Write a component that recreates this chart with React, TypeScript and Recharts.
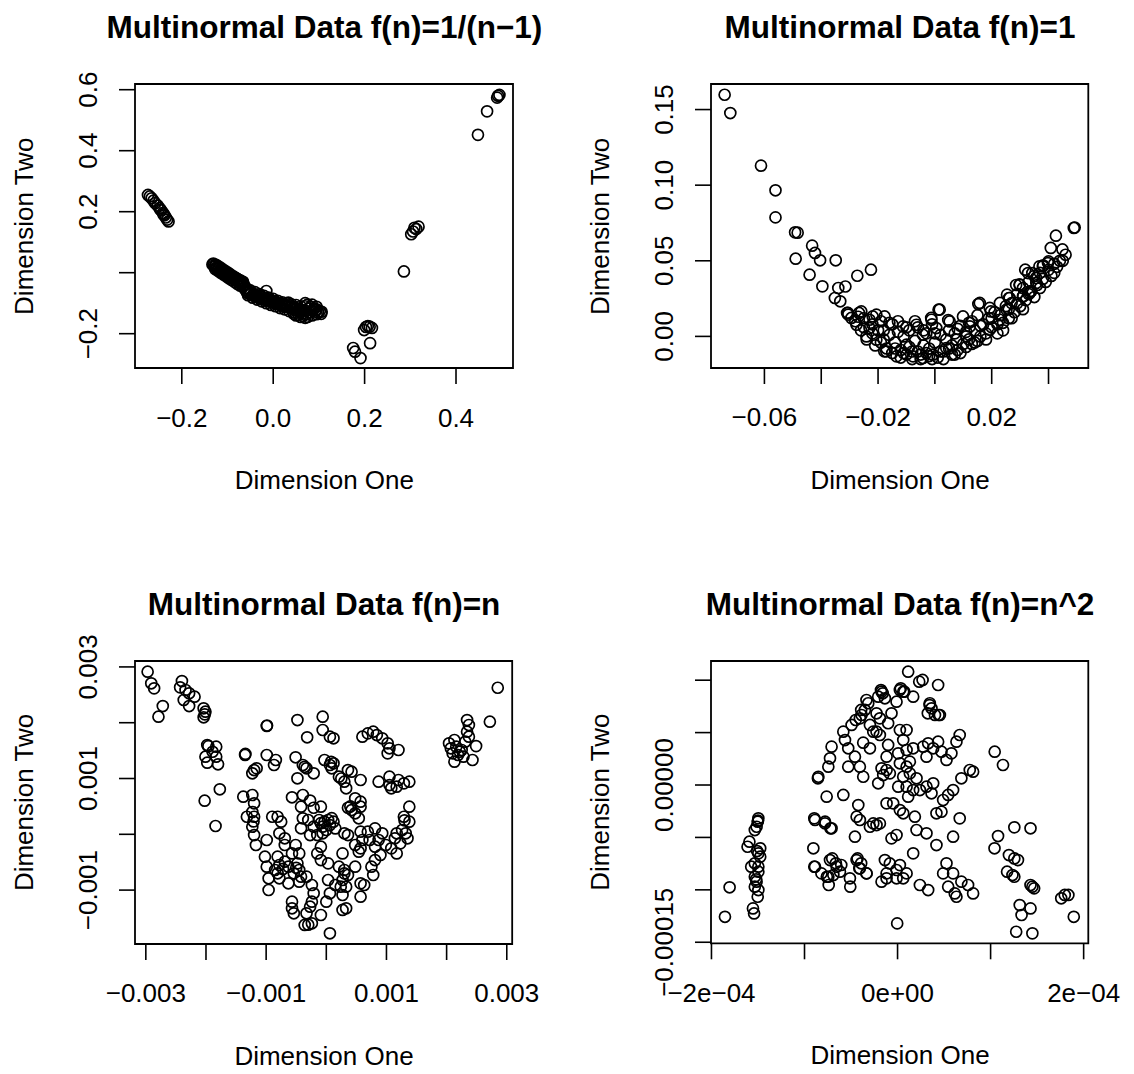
import { ScatterChart, Scatter, XAxis, YAxis, ReferenceArea } from "recharts"

const FONT = '"Liberation Sans", Arial, Helvetica, sans-serif'

type Pt = [number, number]
type Box = { left: number; top: number; right: number; bottom: number }

// ---- panel 1: f(n)=1/(n-1)
const p1Title = "Multinormal Data f(n)=1/(n−1)"
const p1XTicks = [-0.2, 0, 0.2, 0.4]
const p1XLabels = ["−0.2", "0.0", "0.2", "0.4"]
const p1YTicks = [-0.2, 0, 0.2, 0.4, 0.6]
const p1YLabels = ["−0.2", "", "0.2", "0.4", "0.6"]
const p1Points: Pt[] = [
  [0.492, 0.58], [0.49, 0.574], [0.495, 0.583], [0.468, 0.529], [0.448, 0.452],
  [0.309, 0.147], [0.306, 0.135], [0.318, 0.151], [0.302, 0.126], [0.313, 0.143],
  [0.286, 0.004],
  [0.203, -0.178], [0.211, -0.177], [0.199, -0.188], [0.216, -0.181], [0.207, -0.175],
  [0.212, -0.231], [0.175, -0.247], [0.179, -0.259], [0.191, -0.28],
  [-0.274, 0.255], [-0.27, 0.25], [-0.266, 0.244], [-0.262, 0.236], [-0.258, 0.228],
  [-0.253, 0.22], [-0.249, 0.212], [-0.247, 0.207], [-0.245, 0.204], [-0.241, 0.196],
  [-0.24, 0.191], [-0.238, 0.188], [-0.235, 0.181], [-0.232, 0.174], [-0.229, 0.168],
  [-0.133, 0.027], [-0.13, 0.024], [-0.128, 0.02], [-0.126, 0.023], [-0.124, 0.016],
  [-0.122, 0.019], [-0.12, 0.012], [-0.118, 0.015], [-0.116, 0.008], [-0.114, 0.011],
  [-0.112, 0.004], [-0.11, 0.007], [-0.108, 0.0], [-0.106, 0.003], [-0.104, -0.004],
  [-0.102, -0.001], [-0.1, -0.008], [-0.098, -0.005], [-0.096, -0.012], [-0.094, -0.008],
  [-0.092, -0.016], [-0.09, -0.012], [-0.088, -0.019], [-0.086, -0.015], [-0.084, -0.022],
  [-0.082, -0.018], [-0.08, -0.026], [-0.078, -0.021], [-0.076, -0.03], [-0.074, -0.025],
  [-0.072, -0.034], [-0.07, -0.028], [-0.068, -0.038], [-0.066, -0.033],
  [-0.131, 0.03], [-0.125, 0.026], [-0.119, 0.02], [-0.113, 0.014], [-0.107, 0.008],
  [-0.101, 0.002], [-0.095, -0.004], [-0.089, -0.01], [-0.083, -0.016], [-0.077, -0.022],
  [-0.071, -0.026], [-0.066, -0.03],
  [-0.127, 0.012], [-0.121, 0.006], [-0.115, 0.0], [-0.109, -0.006], [-0.103, -0.012],
  [-0.097, -0.018], [-0.091, -0.024], [-0.085, -0.03], [-0.079, -0.036], [-0.073, -0.042],
  [-0.067, -0.046], [-0.064, -0.04],
  [-0.06, -0.058], [-0.057, -0.066], [-0.054, -0.062], [-0.051, -0.07], [-0.048, -0.066],
  [-0.045, -0.074], [-0.042, -0.07], [-0.039, -0.078], [-0.036, -0.074], [-0.033, -0.081],
  [-0.03, -0.077], [-0.027, -0.085], [-0.024, -0.08], [-0.021, -0.088], [-0.018, -0.084],
  [-0.015, -0.06], [-0.015, -0.091], [-0.012, -0.087], [-0.009, -0.094], [-0.006, -0.09],
  [-0.003, -0.097], [0.0, -0.093], [0.003, -0.1], [0.006, -0.096], [0.009, -0.103],
  [0.012, -0.099], [0.015, -0.106], [0.018, -0.102], [0.021, -0.109], [0.024, -0.105],
  [0.027, -0.112], [0.03, -0.108], [0.033, -0.098], [0.036, -0.114], [0.039, -0.11],
  [0.042, -0.118], [0.045, -0.113], [0.048, -0.122], [0.051, -0.116], [0.054, -0.126],
  [0.057, -0.12], [0.06, -0.13], [0.063, -0.122], [0.066, -0.132], [0.069, -0.11],
  [0.071, -0.125], [0.073, -0.136], [0.075, -0.105], [0.078, -0.118], [0.08, -0.13],
  [0.083, -0.112], [0.086, -0.124], [0.089, -0.118], [0.092, -0.128], [0.095, -0.12],
  [0.098, -0.13], [0.102, -0.126], [0.106, -0.128],
  [0.05, -0.14], [0.06, -0.145], [0.07, -0.148], [0.045, -0.135],
  [-0.058, -0.052], [-0.05, -0.058], [-0.04, -0.064], [-0.03, -0.07], [-0.02, -0.076],
  [-0.01, -0.082], [0.0, -0.086], [0.01, -0.092], [0.02, -0.097], [0.03, -0.101],
  [0.04, -0.104], [0.05, -0.106], [0.06, -0.11], [0.07, -0.1], [0.085, -0.105], [0.095, -0.112],
  [-0.055, -0.074], [-0.045, -0.082], [-0.035, -0.088], [-0.025, -0.094], [-0.015, -0.1],
  [-0.005, -0.106], [0.005, -0.11], [0.015, -0.116], [0.025, -0.12], [0.035, -0.126],
  [0.045, -0.13], [0.055, -0.138], [0.065, -0.142], [0.075, -0.145], [0.085, -0.14],
  [0.095, -0.136], [0.105, -0.135],
]

// ---- panel 2: f(n)=1
const p2Title = "Multinormal Data f(n)=1"
const p2XTicks = [-0.06, -0.04, -0.02, 0, 0.02, 0.04]
const p2XLabels = ["−0.06", "", "−0.02", "", "0.02", ""]
const p2YTicks = [0, 0.05, 0.1, 0.15]
const p2YLabels = ["0.00", "0.05", "0.10", "0.15"]
const p2Points: Pt[] = [
  [-0.074, 0.1598], [-0.072, 0.1477], [-0.0612, 0.1129], [-0.0561, 0.0966], [-0.0561, 0.0787],
  [-0.0492, 0.0688], [-0.0483, 0.0686], [-0.049, 0.0514], [-0.0432, 0.06], [-0.0422, 0.0552],
  [-0.0404, 0.0503], [-0.0349, 0.0503], [-0.0441, 0.0408], [-0.0396, 0.0331], [-0.034, 0.032],
  [-0.0315, 0.033], [-0.0352, 0.0254], [-0.0333, 0.0232], [-0.0273, 0.0401], [-0.0225, 0.0441],
  [0.0013, 0.0177], [-0.0013, 0.0122], [0.0153, 0.0214], [0.0047, 0.0108], [0.0254, 0.0276],
  [0.0299, 0.0342], [0.0318, 0.0441], [0.0343, 0.0419], [0.0368, 0.0463], [0.0381, 0.047],
  [0.04, 0.0496], [0.0426, 0.0666], [0.0408, 0.0585], [0.0449, 0.0575], [0.0489, 0.0717],
  [0.0492, 0.072],
  [-0.0306, 0.0155], [-0.0259, 0.0165], [-0.0294, 0.0122], [-0.0206, 0.0144], [-0.0177, 0.0132],
  [-0.0276, 0.0077], [-0.0241, 0.0], [-0.023, 0.0055], [-0.0206, -0.0022], [-0.0171, -0.0099],
  [-0.0135, -0.0132], [-0.0112, 0.0066], [-0.0065, 0.0077], [-0.01, -0.0055], [-0.0077, -0.0132],
  [-0.0042, -0.0143], [-0.0042, 0.0011], [-0.0007, -0.0121], [0.0017, 0.0177], [-0.0012, 0.011],
  [0.0052, 0.0099], [0.0005, 0.0055], [0.004, -0.0077], [0.0076, -0.0022], [0.0099, 0.0132],
  [0.0123, 0.0066], [0.0158, 0.0221], [0.0193, 0.0188], [0.0111, 0.0], [0.0193, 0.0044],
  [0.0228, 0.011], [0.0252, 0.0177], [0.0263, 0.0254], [0.0298, 0.0342], [0.031, 0.0265],
  [0.0328, 0.0419], [0.0334, 0.0287], [0.0357, 0.0353], [0.038, 0.0463], [0.0398, 0.0485],
  [-0.028, 0.01], [-0.026, 0.004], [-0.025, 0.012], [-0.024, -0.002], [-0.022, 0.008],
  [-0.022, 0.002], [-0.021, -0.006], [-0.019, 0.01], [-0.019, -0.004], [-0.018, 0.004],
  [-0.017, -0.008], [-0.016, 0.001], [-0.015, 0.008], [-0.015, -0.011], [-0.014, -0.004],
  [-0.013, 0.003], [-0.012, -0.009], [-0.012, -0.014], [-0.011, 0.0], [-0.01, -0.012],
  [-0.009, 0.004], [-0.009, -0.007], [-0.008, -0.015], [-0.007, -0.003], [-0.006, -0.01],
  [-0.006, 0.006], [-0.005, -0.015], [-0.004, -0.006], [-0.003, 0.002], [-0.002, -0.013],
  [-0.002, -0.008], [-0.001, 0.008], [0.0, -0.004], [0.001, -0.014], [0.002, 0.001],
  [0.003, -0.01], [0.004, -0.002], [0.005, 0.004], [0.006, -0.012], [0.006, -0.006],
  [0.007, 0.002], [0.008, -0.009], [0.009, 0.007], [0.01, -0.005], [0.011, 0.003],
  [0.012, -0.002], [0.013, 0.01], [0.014, -0.004], [0.014, 0.004], [0.015, 0.014],
  [0.016, 0.0], [0.017, 0.008], [0.018, 0.002], [0.019, 0.012], [0.02, 0.006],
  [0.021, 0.016], [0.022, 0.002], [0.023, 0.014], [0.024, 0.009], [0.025, 0.02],
  [0.026, 0.012], [0.027, 0.022], [0.028, 0.016], [0.029, 0.028], [0.03, 0.02],
  [0.031, 0.032], [0.032, 0.024], [0.033, 0.036], [0.034, 0.03], [0.035, 0.04],
  [0.036, 0.034], [0.037, 0.042], [0.038, 0.038], [0.04, 0.044], [0.041, 0.04],
  [0.042, 0.048], [0.043, 0.046], [0.044, 0.05], [0.046, 0.054],
  [-0.0267, 0.0155], [-0.0309, 0.0155], [-0.0305, 0.0144], [-0.0219, 0.0132], [-0.0178, -0.0099],
  [0.0286, 0.034], [0.0356, 0.0386], [0.0336, 0.0298], [0.0311, 0.0265], [0.0261, 0.0254],
  [0.0229, 0.0221], [0.0197, 0.0165],
  [-0.027, 0.013], [-0.025, 0.006], [-0.023, 0.011], [-0.02, 0.004], [-0.018, -0.002],
  [-0.016, 0.009], [-0.014, -0.008], [-0.013, 0.01], [-0.011, -0.011], [-0.01, 0.006],
  [-0.008, -0.01], [-0.007, 0.01], [-0.005, -0.012], [-0.004, 0.004], [-0.003, -0.011],
  [-0.001, -0.015], [0.0, 0.002], [0.002, -0.01], [0.003, -0.015], [0.005, -0.008],
  [0.007, -0.012], [0.008, 0.005], [0.009, -0.011], [0.011, -0.007], [0.012, 0.009],
  [0.013, -0.005], [0.015, -0.003], [0.016, 0.007], [0.018, -0.002], [0.02, 0.012],
  [0.022, 0.008], [0.024, 0.004], [0.026, 0.018], [0.027, 0.012], [0.029, 0.022],
  [0.031, 0.018], [0.033, 0.028], [0.035, 0.026], [0.037, 0.032], [0.039, 0.036],
  [0.042, 0.042], [0.045, 0.05],
]

// ---- panel 3: f(n)=n
const p3Title = "Multinormal Data f(n)=n"
const p3XTicks = [-0.003, -0.002, -0.001, 0, 0.001, 0.002, 0.003]
const p3XLabels = ["−0.003", "", "−0.001", "", "0.001", "", "0.003"]
const p3YTicks = [-0.001, 0, 0.001, 0.002, 0.003]
const p3YLabels = ["−0.001", "", "0.001", "", "0.003"]
const p3Points: Pt[] = [
  [-2.97e-3, 2.914e-3], [-2.91e-3, 2.706e-3], [-2.862e-3, 2.616e-3], [-2.718e-3, 2.299e-3], [-2.79e-3, 2.108e-3],
  [-2.4e-3, 2.747e-3], [-2.43e-3, 2.634e-3], [-2.34e-3, 2.586e-3], [-2.28e-3, 2.527e-3], [-2.19e-3, 2.466e-3],
  [-2.37e-3, 2.407e-3], [-2.28e-3, 2.299e-3], [-2.039e-3, 2.258e-3], [-2.009e-3, 2.198e-3], [-2.039e-3, 2.097e-3],
  [-2.02e-3, 2.15e-3], [-1.979e-3, 1.6e-3], [-1.83e-3, 1.57e-3], [-2.009e-3, 1.391e-3], [-1.83e-3, 1.391e-3],
  [-1.979e-3, 1.283e-3], [-1.8e-3, 1.254e-3], [-1.89e-3, 1.48e-3], [-1.96e-3, 1.58e-3], [-1.77e-3, 0.806e-3],
  [-2.022e-3, 0.602e-3], [-1.841e-3, 0.149e-3],
  [-1.35e-3, 1.421e-3], [-1.345e-3, 1.44e-3], [-1.2e-3, 1.152e-3], [-1.158e-3, 1.182e-3], [-1.23e-3, 1.093e-3],
  [-0.99e-3, 1.941e-3], [-0.985e-3, 1.95e-3], [-0.99e-3, 1.421e-3], [-0.839e-3, 1.332e-3], [-0.869e-3, 1.242e-3],
  [-1.38e-3, 0.674e-3], [-1.23e-3, 0.704e-3], [-1.2e-3, 0.556e-3], [-1.32e-3, 0.315e-3], [-1.2e-3, 0.315e-3],
  [-1.23e-3, 0.136e-3], [-1.2e-3, -0.013e-3], [-1.17e-3, -0.192e-3], [-1.23e-3, 0.4e-3], [-1.21e-3, 0.23e-3],
  [-0.99e-3, -0.102e-3], [-0.899e-3, 0.315e-3], [-0.809e-3, 0.315e-3], [-0.75e-3, 0.226e-3], [-0.78e-3, 0.018e-3],
  [-0.69e-3, -0.072e-3], [-0.69e-3, -0.192e-3],
  [-1.02e-3, -0.401e-3], [-0.99e-3, -0.581e-3], [-0.809e-3, -0.401e-3], [-0.78e-3, -0.55e-3], [-0.69e-3, -0.491e-3],
  [-0.809e-3, -0.699e-3], [-0.959e-3, -0.789e-3], [-0.959e-3, -0.998e-3], [-0.78e-3, -0.789e-3], [-0.63e-3, -0.878e-3],
  [-0.72e-3, -0.62e-3], [-0.85e-3, -0.64e-3],
  [-0.48e-3, 2.048e-3], [-0.318e-3, 1.738e-3], [-0.51e-3, 1.38e-3], [-0.39e-3, 1.242e-3], [-0.329e-3, 1.183e-3],
  [-0.48e-3, 1.004e-3], [-0.21e-3, 1.093e-3], [-0.36e-3, 1.21e-3],
  [-0.57e-3, 0.663e-3], [-0.39e-3, 0.704e-3], [-0.42e-3, 0.495e-3], [-0.269e-3, 0.604e-3], [-0.21e-3, 0.476e-3],
  [-0.09e-3, 0.495e-3], [-0.39e-3, 0.287e-3], [-0.42e-3, 0.108e-3], [-0.3e-3, 0.256e-3], [-0.21e-3, 0.136e-3],
  [-0.269e-3, -0.013e-3], [-0.15e-3, -0.013e-3], [-0.06e-3, 0.018e-3],
  [-0.12e-3, 0.256e-3], [-0.03e-3, 0.226e-3], [0.03e-3, 0.256e-3], [0.12e-3, 0.226e-3], [-0.06e-3, 0.136e-3],
  [0.06e-3, 0.166e-3], [0.15e-3, 0.106e-3], [0.0, 0.077e-3], [-0.09e-3, 0.2e-3], [0.09e-3, 0.29e-3],
  [-0.51e-3, -0.192e-3], [-0.57e-3, -0.342e-3], [-0.45e-3, -0.342e-3], [-0.48e-3, -0.521e-3], [-0.63e-3, -0.581e-3],
  [-0.45e-3, -0.64e-3], [-0.54e-3, -0.699e-3], [-0.42e-3, -0.759e-3], [-0.329e-3, -0.759e-3], [-0.45e-3, -0.849e-3],
  [-0.5e-3, -0.6e-3],
  [-0.24e-3, -0.909e-3], [-0.21e-3, -1.057e-3], [-0.24e-3, -1.208e-3], [-0.269e-3, -1.297e-3], [-0.329e-3, -1.416e-3],
  [-0.359e-3, -1.625e-3], [-0.24e-3, -1.595e-3], [-0.09e-3, -1.446e-3], [-0.57e-3, -1.208e-3], [-0.57e-3, -1.326e-3],
  [-0.54e-3, -1.416e-3], [-0.3e-3, -1.62e-3], [0.06e-3, -1.774e-3],
  [-0.15e-3, -0.342e-3], [-0.09e-3, -0.461e-3], [0.03e-3, -0.521e-3], [-0.09e-3, -0.222e-3],
  [-0.06e-3, 2.108e-3], [-0.06e-3, 1.869e-3], [0.06e-3, 1.749e-3], [0.12e-3, 1.72e-3], [-0.03e-3, 1.332e-3],
  [0.06e-3, 1.242e-3], [0.12e-3, 1.272e-3], [0.09e-3, 1.183e-3], [0.08e-3, 1.3e-3],
  [0.21e-3, 1.032e-3], [0.3e-3, 0.943e-3], [0.33e-3, 0.824e-3], [0.36e-3, 1.152e-3], [0.42e-3, 1.122e-3],
  [0.57e-3, 0.973e-3], [0.48e-3, 0.645e-3], [0.57e-3, 0.584e-3], [0.25e-3, 1.0e-3],
  [0.36e-3, 0.476e-3], [0.42e-3, 0.435e-3], [0.48e-3, 0.376e-3], [0.54e-3, 0.287e-3], [0.57e-3, 0.495e-3],
  [0.4e-3, 0.5e-3], [0.3e-3, 0.018e-3], [0.36e-3, -0.013e-3], [0.27e-3, -0.342e-3], [0.48e-3, -0.192e-3],
  [0.6e-3, -0.102e-3], [0.57e-3, 0.047e-3], [0.54e-3, -0.312e-3],
  [0.21e-3, -0.581e-3], [0.3e-3, -0.64e-3], [0.36e-3, -0.729e-3], [0.27e-3, -0.819e-3], [0.24e-3, -0.939e-3],
  [0.33e-3, -0.939e-3], [0.15e-3, -0.909e-3], [0.03e-3, -0.819e-3], [0.06e-3, -1.057e-3], [0.0, -1.208e-3],
  [0.3e-3, -0.7e-3], [0.27e-3, -1.088e-3], [0.33e-3, -1.326e-3], [0.27e-3, -1.356e-3], [0.48e-3, -0.581e-3],
  [0.57e-3, -0.879e-3], [0.57e-3, -1.118e-3], [0.63e-3, -0.909e-3],
  [0.6e-3, 1.749e-3], [0.69e-3, 1.809e-3], [0.78e-3, 1.839e-3], [0.84e-3, 1.779e-3], [0.93e-3, 1.72e-3],
  [1.02e-3, 1.63e-3], [1.05e-3, 1.541e-3], [1.2e-3, 1.511e-3], [1.02e-3, 1.451e-3],
  [0.87e-3, 0.943e-3], [1.05e-3, 1.032e-3], [1.08e-3, 0.824e-3], [1.2e-3, 0.973e-3], [1.29e-3, 0.913e-3],
  [1.38e-3, 0.943e-3], [1.17e-3, 0.854e-3], [1.05e-3, 0.883e-3],
  [1.38e-3, 0.495e-3], [1.29e-3, 0.315e-3], [1.38e-3, 0.226e-3], [1.26e-3, 0.077e-3], [1.17e-3, 0.018e-3],
  [1.32e-3, 0.018e-3], [1.14e-3, -0.072e-3], [1.35e-3, -0.072e-3], [1.23e-3, -0.162e-3], [1.3e-3, 0.25e-3],
  [0.99e-3, -0.192e-3], [1.08e-3, -0.252e-3], [1.17e-3, -0.342e-3], [0.9e-3, -0.371e-3], [0.81e-3, -0.461e-3],
  [0.75e-3, -0.581e-3], [0.78e-3, -0.729e-3],
  [0.81e-3, 0.106e-3], [0.93e-3, 0.018e-3], [0.87e-3, -0.102e-3], [0.69e-3, 0.047e-3], [0.72e-3, -0.102e-3],
  [0.57e-3, -0.252e-3], [0.81e-3, -0.222e-3],
  [2.85e-3, 2.627e-3], [2.719e-3, 2.018e-3],
  [2.34e-3, 2.048e-3], [2.37e-3, 1.959e-3], [2.34e-3, 1.839e-3], [2.37e-3, 1.749e-3], [2.31e-3, 1.66e-3],
  [2.49e-3, 1.581e-3], [2.43e-3, 1.332e-3],
  [2.07e-3, 1.541e-3], [2.16e-3, 1.57e-3], [2.25e-3, 1.511e-3], [2.1e-3, 1.451e-3], [2.19e-3, 1.421e-3],
  [2.04e-3, 1.63e-3], [2.13e-3, 1.69e-3], [2.28e-3, 1.392e-3], [2.13e-3, 1.302e-3], [2.22e-3, 1.481e-3],
]

// ---- panel 4: f(n)=n^2
const p4Title = "Multinormal Data f(n)=n^2"
const p4XTicks = [-2e-4, -1e-4, 0, 1e-4, 2e-4]
const p4XLabels = ["−2e−04", "", "0e+00", "", "2e−04"]
const p4YTicks = [-1.5e-4, -1e-4, -5e-5, 0, 5e-5, 1e-4]
const p4YLabels = ["−0.00015", "", "", "0.00000", "", ""]
const p4Points: Pt[] = [
  [-1.855e-4, -12.57e-5], [-1.805e-4, -9.76e-5],
  [-1.496e-4, -3.18e-5], [-1.503e-4, -3.5e-5], [-1.515e-4, -3.98e-5], [-1.534e-4, -4.3e-5], [-1.592e-4, -5.41e-5],
  [-1.612e-4, -5.89e-5], [-1.476e-4, -6.04e-5], [-1.496e-4, -6.52e-5], [-1.476e-4, -6.84e-5], [-1.534e-4, -7.47e-5],
  [-1.496e-4, -7.79e-5], [-1.534e-4, -8.75e-5], [-1.515e-4, -9.22e-5], [-1.496e-4, -8.27e-5], [-1.534e-4, -9.7e-5],
  [-1.496e-4, -10.02e-5], [-1.554e-4, -11.77e-5], [-1.542e-4, -12.25e-5], [-1.503e-4, -10.66e-5], [-1.573e-4, -7.79e-5],
  [-1.5e-4, -3.4e-5], [-1.51e-4, -6.3e-5], [-1.52e-4, -9.0e-5],
  [0.114e-4, 10.81e-5], [0.233e-4, 9.86e-5], [0.269e-4, 10.02e-5], [0.436e-4, 9.54e-5],
  [-0.172e-4, 8.9e-5], [-0.208e-4, 8.43e-5], [-0.136e-4, 8.27e-5],
  [0.025e-4, 9.06e-5], [0.061e-4, 8.9e-5], [-0.011e-4, 7.95e-5], [0.168e-4, 8.43e-5], [0.347e-4, 7.8e-5],
  [0.365e-4, 7.32e-5], [0.455e-4, 6.68e-5],
  [-0.315e-4, 7.8e-5], [-0.351e-4, 7.16e-5], [-0.387e-4, 6.68e-5], [-0.405e-4, 6.36e-5], [-0.226e-4, 6.84e-5],
  [-0.19e-4, 6.36e-5], [-0.065e-4, 6.84e-5], [-0.101e-4, 5.89e-5],
  [-0.583e-4, 5.09e-5], [-0.494e-4, 5.73e-5], [-0.565e-4, 4.29e-5], [-0.709e-4, 3.66e-5], [-0.726e-4, 2.55e-5],
  [-0.744e-4, 1.75e-5], [-0.851e-4, 0.79e-5],
  [-0.53e-4, 3.5e-5], [-0.458e-4, 2.7e-5], [-0.53e-4, 1.75e-5], [-0.369e-4, 4.04e-5], [-0.297e-4, 3.5e-5],
  [-0.405e-4, 1.75e-5], [-0.369e-4, 0.79e-5],
  [-0.261e-4, 5.09e-5], [-0.226e-4, 5.09e-5], [-0.297e-4, 5.73e-5], [-0.19e-4, 4.77e-5],
  [-0.101e-4, 3.82e-5], [-0.118e-4, 2.7e-5], [0.025e-4, 5.25e-5], [0.097e-4, 5.25e-5], [0.061e-4, 4.29e-5],
  [0.007e-4, 3.02e-5], [0.097e-4, 3.34e-5], [0.168e-4, 3.5e-5], [0.132e-4, 2.23e-5],
  [0.275e-4, 3.66e-5], [0.329e-4, 3.98e-5], [0.383e-4, 3.5e-5], [0.311e-4, 2.7e-5], [0.436e-4, 4.13e-5],
  [0.472e-4, 3.18e-5],
  [-0.172e-4, 1.59e-5], [-0.118e-4, 1.43e-5], [-0.154e-4, 0.95e-5], [-0.208e-4, 0.16e-5], [-0.083e-4, 1.11e-5],
  [0.025e-4, 2.07e-5], [0.097e-4, 1.75e-5], [0.061e-4, 0.79e-5], [0.132e-4, 1.11e-5], [0.204e-4, 0.64e-5],
  [0.007e-4, -0.16e-5], [0.097e-4, -0.16e-5], [0.168e-4, -0.48e-5], [0.24e-4, -0.48e-5], [0.311e-4, -0.16e-5],
  [0.365e-4, -0.79e-5], [0.383e-4, 0.16e-5],
  [0.668e-4, 4.77e-5], [0.633e-4, 4.13e-5], [0.579e-4, 3.02e-5], [0.526e-4, 2.39e-5], [0.776e-4, 1.43e-5],
  [0.812e-4, 1.27e-5], [0.686e-4, 0.64e-5], [0.597e-4, -0.48e-5], [0.544e-4, -0.95e-5], [0.49e-4, -1.43e-5],
  [0.418e-4, -2.7e-5], [0.472e-4, -2.55e-5], [0.668e-4, -3.18e-5],
  [-0.118e-4, -1.75e-5], [-0.047e-4, -1.75e-5], [0.025e-4, -2.39e-5], [0.061e-4, -2.7e-5], [0.114e-4, -1.11e-5],
  [0.186e-4, -3.02e-5], [0.204e-4, -4.29e-5], [0.311e-4, -4.61e-5], [0.418e-4, -5.73e-5], [0.597e-4, -4.93e-5],
  [0.168e-4, -6.52e-5], [-0.011e-4, -4.77e-5], [-0.065e-4, -5.09e-5], [-0.458e-4, -4.93e-5], [-0.44e-4, -3.02e-5],
  [-0.422e-4, -1.91e-5], [-0.261e-4, -3.66e-5], [-0.226e-4, -3.82e-5], [-0.19e-4, -3.66e-5], [-0.297e-4, -3.98e-5],
  [-0.405e-4, -3.34e-5],
  [-0.762e-4, -1.11e-5], [-0.583e-4, -0.95e-5], [-0.78e-4, -3.66e-5], [-0.709e-4, -4.13e-5], [-0.887e-4, -3.34e-5],
  [-0.905e-4, -6.04e-5], [-0.887e-4, -7.8e-5], [-0.726e-4, -7.16e-5], [-0.655e-4, -7.8e-5], [-0.744e-4, -8.75e-5],
  [-0.69e-4, -8.59e-5], [-0.619e-4, -8.27e-5],
  [-0.512e-4, -8.9e-5], [-0.44e-4, -7.16e-5], [-0.405e-4, -7.95e-5], [-0.333e-4, -8.43e-5], [-0.136e-4, -7.16e-5],
  [-0.083e-4, -7.48e-5], [-0.118e-4, -8.43e-5], [-0.011e-4, -8.11e-5], [0.025e-4, -7.64e-5], [0.061e-4, -8.9e-5],
  [0.097e-4, -8.43e-5], [-0.172e-4, -9.22e-5], [-0.118e-4, -8.9e-5], [-0.011e-4, -8.9e-5],
  [0.24e-4, -9.54e-5], [0.329e-4, -10.02e-5], [0.526e-4, -7.47e-5], [0.49e-4, -8.43e-5], [0.597e-4, -8.43e-5],
  [0.544e-4, -9.7e-5], [0.615e-4, -10.34e-5], [0.686e-4, -9.22e-5], [0.758e-4, -9.54e-5], [0.812e-4, -10.34e-5],
  [0.633e-4, -10.66e-5],
  [-0.004e-4, -13.2e-5], [1.044e-4, 3.18e-5], [1.133e-4, 1.91e-5],
  [1.255e-4, -4.04e-5], [1.429e-4, -4.13e-5], [1.08e-4, -4.87e-5], [1.042e-4, -6.04e-5], [1.197e-4, -6.68e-5],
  [1.255e-4, -7.0e-5], [1.294e-4, -7.16e-5], [1.177e-4, -8.27e-5], [1.235e-4, -8.59e-5], [1.255e-4, -8.75e-5],
  [1.449e-4, -9.7e-5], [1.468e-4, -9.86e-5], [1.429e-4, -9.54e-5], [1.313e-4, -11.45e-5], [1.333e-4, -12.4e-5],
  [1.429e-4, -11.77e-5], [1.275e-4, -14.0e-5], [1.449e-4, -14.15e-5],
  [1.759e-4, -10.81e-5], [1.797e-4, -10.49e-5], [1.836e-4, -10.49e-5], [1.894e-4, -12.57e-5],
  [-0.856e-4, 0.64e-5], [-0.895e-4, -3.18e-5], [-0.779e-4, -3.5e-5], [-0.721e-4, -4.13e-5], [-0.895e-4, -7.79e-5],
  [-0.818e-4, -8.43e-5], [-0.76e-4, -8.75e-5], [-0.74e-4, -9.54e-5], [-0.702e-4, -7.0e-5], [-0.663e-4, -7.47e-5],
  [-0.605e-4, -7.63e-5], [-0.508e-4, -9.7e-5], [-0.43e-4, -7.0e-5], [-0.391e-4, -7.47e-5], [-0.411e-4, -7.95e-5],
  [-0.334e-4, -8.43e-5],
  [-0.45e-4, 6.2e-5], [-0.391e-4, 7.16e-5], [-0.334e-4, 8.11e-5], [-0.178e-4, 9.06e-5], [-0.159e-4, 8.75e-5],
  [0.034e-4, 9.22e-5], [0.073e-4, 8.9e-5], [0.325e-4, 6.84e-5], [0.402e-4, 6.68e-5], [0.441e-4, 6.68e-5],
  [0.344e-4, 7.63e-5],
]

type PanelProps = {
  title: string
  box: Box
  xDomain: [number, number]
  yDomain: [number, number]
  points: Pt[]
  xTicks: number[]
  xLabels: string[]
  yTicks: number[]
  yLabels: string[]
}

const labelFor = (ticks: number[], labels: string[], v: number) => {
  const i = ticks.findIndex((t) => Math.abs(t - v) < 1e-12)
  return i >= 0 ? labels[i] : ""
}

const Ring = (props: any) => {
  if (props.cx == null || props.cy == null) return <g />
  return <circle cx={props.cx} cy={props.cy} r={5.5} fill="none" stroke="#000" strokeWidth={1.7} />
}

function Panel({ box, xDomain, yDomain, points, xTicks, xLabels, yTicks, yLabels }: PanelProps) {
  const mL = 135, mT = 84, mR = 45, mB = 130
  const axisH = 60, axisW = 60
  const w = box.right - box.left + mL + mR
  const h = box.bottom - box.top + mT + mB
  const data = points.map(([x, y]) => ({ x, y }))

  const xTick = (p: any) => {
    const t = labelFor(xTicks, xLabels, p.payload.value)
    if (!t) return <g />
    return (
      <text x={p.x} y={p.y + 40.5} textAnchor="middle" fontFamily={FONT} fontSize={26} fill="#000">
        {t}
      </text>
    )
  }
  const yTick = (p: any) => {
    const t = labelFor(yTicks, yLabels, p.payload.value)
    if (!t) return <g />
    const tx = p.x - 19.5
    return (
      <text x={tx} y={p.y} transform={`rotate(-90 ${tx} ${p.y})`} textAnchor="middle"
        fontFamily={FONT} fontSize={26} fill="#000">
        {t}
      </text>
    )
  }

  return (
    <div style={{ position: "absolute", left: box.left - mL, top: box.top - mT }}>
      <ScatterChart width={w} height={h}
        margin={{ top: mT, right: mR, bottom: mB - axisH, left: mL - axisW }}>
        <XAxis type="number" dataKey="x" domain={xDomain} ticks={xTicks} interval={0}
          allowDataOverflow height={axisH} axisLine={false} stroke="#000"
          tickLine={{ stroke: "#000", strokeWidth: 1.6 }} tickSize={16} tick={xTick} />
        <YAxis type="number" dataKey="y" domain={yDomain} ticks={yTicks} interval={0}
          allowDataOverflow width={axisW} axisLine={false} stroke="#000"
          tickLine={{ stroke: "#000", strokeWidth: 1.6 }} tickSize={16} tick={yTick} />
        <ReferenceArea x1={xDomain[0]} x2={xDomain[1]} y1={yDomain[0]} y2={yDomain[1]}
          fill="none" fillOpacity={0} stroke="#000" strokeWidth={1.8} ifOverflow="visible" />
        <Scatter data={data} isAnimationActive={false} shape={Ring} />
      </ScatterChart>
    </div>
  )
}

const panels: PanelProps[] = [
  {
    title: p1Title, box: { left: 135.4, top: 84.3, right: 513.4, bottom: 368.3 },
    xDomain: [-0.3024, 0.5247], yDomain: [-0.3125, 0.6187], points: p1Points,
    xTicks: p1XTicks, xLabels: p1XLabels, yTicks: p1YTicks, yLabels: p1YLabels,
  },
  {
    title: p2Title, box: { left: 711.4, top: 84.3, right: 1088.7, bottom: 368.3 },
    xDomain: [-0.0788, 0.054], yDomain: [-0.0209, 0.1669], points: p2Points,
    xTicks: p2XTicks, xLabels: p2XLabels, yTicks: p2YTicks, yLabels: p2YLabels,
  },
  {
    title: p3Title, box: { left: 135.4, top: 661, right: 512.6, bottom: 944 },
    xDomain: [-0.00318, 0.00309], yDomain: [-0.001966, 0.003106], points: p3Points,
    xTicks: p3XTicks, xLabels: p3XLabels, yTicks: p3YTicks, yLabels: p3YLabels,
  },
  {
    title: p4Title, box: { left: 711.4, top: 661, right: 1088.7, bottom: 943.3 },
    xDomain: [-0.0002005, 0.000205], yDomain: [-0.000151, 0.0001183], points: p4Points,
    xTicks: p4XTicks, xLabels: p4XLabels, yTicks: p4YTicks, yLabels: p4YLabels,
  },
]

export default function App() {
  return (
    <div style={{ position: "absolute", left: 0, top: 0, width: 1134, height: 1074, background: "#fff", overflow: "hidden" }}>
      {panels.map((p, i) => (
        <Panel key={i} {...p} />
      ))}
      <svg width={1134} height={1074} style={{ position: "absolute", left: 0, top: 0, pointerEvents: "none" }}>
        {panels.map((p, i) => {
          const cx = (p.box.left + p.box.right) / 2
          const cy = (p.box.top + p.box.bottom) / 2
          const lx = p.box.left - 102
          return (
            <g key={i} fontFamily={FONT} fill="#000">
              <text x={cx} y={p.box.top - 46} textAnchor="middle" fontSize={31.5} fontWeight="bold">
                {p.title}
              </text>
              <text x={cx} y={p.box.bottom + 121} textAnchor="middle" fontSize={26}>
                Dimension One
              </text>
              <text x={lx} y={cy} transform={`rotate(-90 ${lx} ${cy})`} textAnchor="middle" fontSize={26}>
                Dimension Two
              </text>
            </g>
          )
        })}
      </svg>
    </div>
  )
}
